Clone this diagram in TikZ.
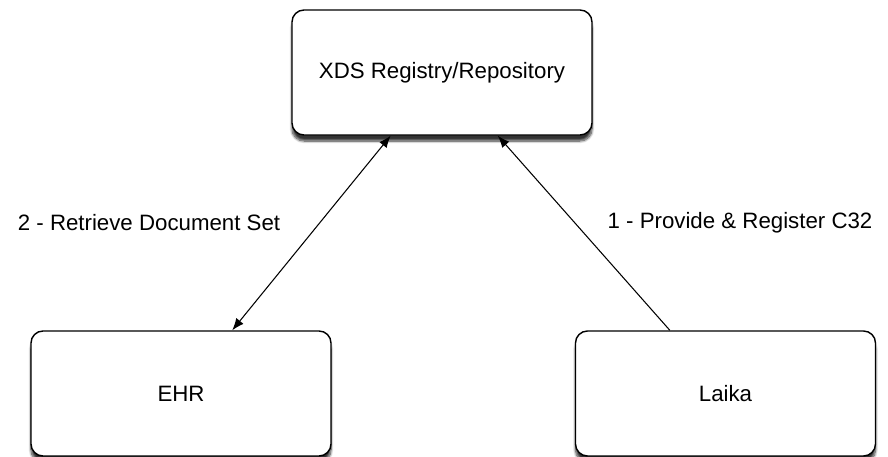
\documentclass[tikz,border=0pt]{standalone}
\usepackage{fontspec}
\setmainfont{Liberation Sans}
\usetikzlibrary{arrows.meta,shadows.blur}
\tikzset{
  box/.style={draw,line width=1.2pt,rounded corners=0.36cm,fill=white,
    minimum width=9cm,minimum height=3.75cm,
    blur shadow={shadow xshift=0pt,shadow yshift=-0.18cm,shadow blur steps=8,shadow opacity=80}},
  link/.style={line width=0.9pt,>={Latex[length=0.36cm,width=0.28cm]}}
}
\begin{document}
\begin{tikzpicture}[x=0.03cm,y=-0.03cm,font=\fontsize{19}{23}\selectfont]
    \useasboundingbox (0,0) rectangle (888,457);
    \node[box] (registry) at (442,72.5) {XDS Registry/Repository};
    \node[box] (ehr) at (181,393.5) {EHR};
    \node[box] (laika) at (725.5,393.5) {Laika};
    \draw[link,<->] (ehr) -- (registry);
    \draw[link,->] (laika) -- (registry);
    \node (retrieve) at (149,223) {2 - Retrieve Document Set};
    \node (provide) at (740,223) {1 - Provide \& Register C32};
  \end{tikzpicture}
\end{document}
